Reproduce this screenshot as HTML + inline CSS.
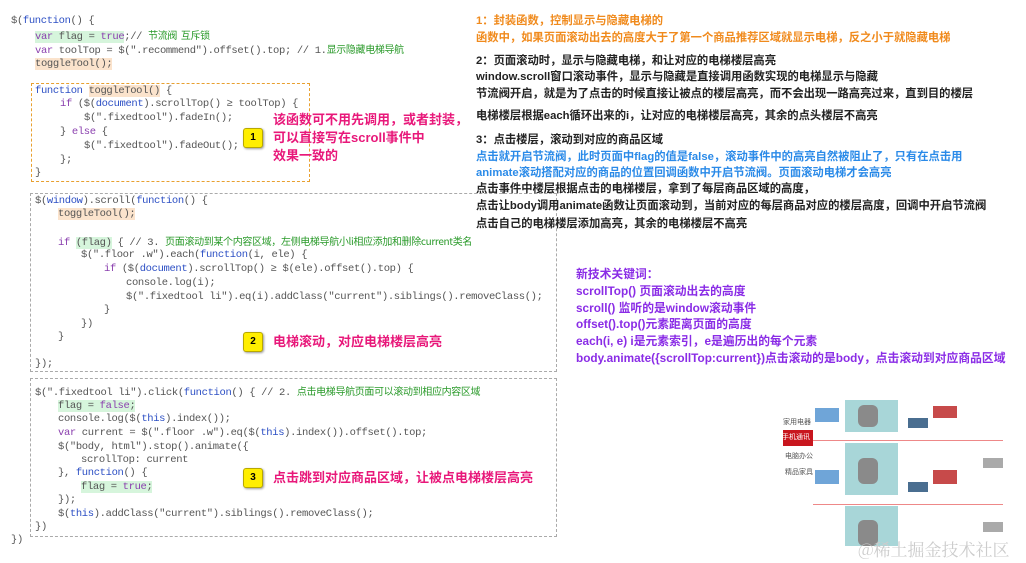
<!DOCTYPE html>
<html><head><meta charset="utf-8"><style>
body{margin:0;width:1026px;height:563px;background:#fff;position:relative;overflow:hidden;font-family:"Liberation Sans","Noto Sans CJK SC",sans-serif}
.c{position:absolute;font-family:"Liberation Mono","Noto Sans CJK SC",monospace;font-size:10.5px;letter-spacing:-0.35px;color:#555;white-space:pre;line-height:13px;height:13px}
.k{color:#8a3fae}.f{color:#2c4fc4}.g{color:#2a9a2a;font-family:"Noto Sans CJK SC",sans-serif;font-size:10px;line-height:10px}
.hg{background:#d6f5dc}.ho{background:#fbe3cc}
.t{position:absolute;white-space:pre;font-size:11.3px;font-weight:bold;color:#222;line-height:14px}
.o{color:#f08a1c}.b{color:#2a8ae8}.p{color:#8a2ce6}
.r{position:absolute;white-space:pre;color:#e8187a;font-weight:bold;font-size:13px;line-height:18px}
.bd{position:absolute;width:18px;height:18px;background:#ffee00;border:1px solid #b8a800;border-radius:3px;font-size:10px;font-weight:bold;text-align:center;line-height:18px;box-shadow:1px 1px 2px #999}
.box{position:absolute;border:1px dashed #aaa}
</style></head><body>
<div class="c" style="left:11px;top:15px">$(<span class="f">function</span>() {</div>
<div class="c" style="left:35px;top:30px"><span class="hg"><span class="k">var</span> flag = <span class="k">true</span></span>;// <span class="g">节流阀  互斥锁</span></div>
<div class="c" style="left:35px;top:44px"><span class="k">var</span> toolTop = $(".recommend").offset().top; // 1.<span class="g">显示隐藏电梯导航</span></div>
<div class="c" style="left:35px;top:58px"><span class="ho">toggleTool();</span></div>
<div class="box" style="left:31px;top:83px;width:277px;height:97px;border-color:#e8a030"></div>
<div class="c" style="left:35px;top:85px"><span class="f">function</span> <span class="ho">toggleTool()</span> {</div>
<div class="c" style="left:60px;top:98px"><span class="k">if</span> ($(<span class="f">document</span>).scrollTop() ≥ toolTop) {</div>
<div class="c" style="left:84px;top:112px">$(".fixedtool").fadeIn();</div>
<div class="c" style="left:60px;top:126px">} <span class="k">else</span> {</div>
<div class="c" style="left:84px;top:140px">$(".fixedtool").fadeOut();</div>
<div class="c" style="left:60px;top:154px">};</div>
<div class="c" style="left:35px;top:167px">}</div>
<div class="bd" style="left:243px;top:128px">1</div>
<div class="r" style="left:273px;top:111px">该函数可不用先调用，或者封装，
可以直接写在scroll事件中
效果一致的</div>

<div class="box" style="left:30px;top:193px;width:525px;height:177px"></div>
<div class="c" style="left:35px;top:195px">$(<span class="f">window</span>).scroll(<span class="f">function</span>() {</div>
<div class="c" style="left:58px;top:208px"><span class="ho">toggleTool();</span></div>
<div class="c" style="left:58px;top:236px"><span class="k">if</span> <span class="hg">(flag)</span> { // 3. <span class="g">页面滚动到某个内容区域，左侧电梯导航小li相应添加和删除current类名</span></div>
<div class="c" style="left:81px;top:249px">$(".floor .w").each(<span class="f">function</span>(i, ele) {</div>
<div class="c" style="left:104px;top:263px"><span class="k">if</span> ($(<span class="f">document</span>).scrollTop() ≥ $(ele).offset().top) {</div>
<div class="c" style="left:126px;top:277px">console.log(i);</div>
<div class="c" style="left:126px;top:291px">$(".fixedtool li").eq(i).addClass("current").siblings().removeClass();</div>
<div class="c" style="left:104px;top:304px">}</div>
<div class="c" style="left:81px;top:318px">})</div>
<div class="c" style="left:58px;top:331px">}</div>
<div class="c" style="left:35px;top:358px">});</div>
<div class="bd" style="left:243px;top:332px">2</div>
<div class="r" style="left:273px;top:333px">电梯滚动，对应电梯楼层高亮</div>

<div class="box" style="left:30px;top:378px;width:525px;height:157px"></div>
<div class="c" style="left:35px;top:386px">$(".fixedtool li").click(<span class="f">function</span>() { // 2. <span class="g">点击电梯导航页面可以滚动到相应内容区域</span></div>
<div class="c" style="left:58px;top:400px"><span class="hg">flag = <span class="k">false</span>;</span></div>
<div class="c" style="left:58px;top:413px">console.log($(<span class="f">this</span>).index());</div>
<div class="c" style="left:58px;top:427px"><span class="k">var</span> current = $(".floor .w").eq($(<span class="f">this</span>).index()).offset().top;</div>
<div class="c" style="left:58px;top:441px">$("body, html").stop().animate({</div>
<div class="c" style="left:81px;top:454px">scrollTop: current</div>
<div class="c" style="left:58px;top:467px">}, <span class="f">function</span>() {</div>
<div class="c" style="left:81px;top:481px"><span class="hg">flag = <span class="k">true</span>;</span></div>
<div class="c" style="left:58px;top:494px">});</div>
<div class="c" style="left:58px;top:508px">$(<span class="f">this</span>).addClass("current").siblings().removeClass();</div>
<div class="c" style="left:35px;top:521px">})</div>
<div class="c" style="left:11px;top:534px">})</div>
<div class="bd" style="left:243px;top:468px">3</div>
<div class="r" style="left:273px;top:469px">点击跳到对应商品区域，让被点电梯楼层高亮</div>

<div class="t o" style="left:476px;top:14px">1：封装函数，控制显示与隐藏电梯的</div>
<div class="t o" style="left:476px;top:31px">函数中，如果页面滚动出去的高度大于了第一个商品推荐区域就显示电梯，反之小于就隐藏电梯</div>
<div class="t" style="left:476px;top:54px">2：页面滚动时，显示与隐藏电梯，和让对应的电梯楼层高亮</div>
<div class="t" style="left:476px;top:70px">window.scroll窗口滚动事件，显示与隐藏是直接调用函数实现的电梯显示与隐藏</div>
<div class="t" style="left:476px;top:87px">节流阀开启，就是为了点击的时候直接让被点的楼层高亮，而不会出现一路高亮过来，直到目的楼层</div>
<div class="t" style="left:476px;top:109px">电梯楼层根据each循环出来的i，让对应的电梯楼层高亮，其余的点头楼层不高亮</div>
<div class="t" style="left:476px;top:133px">3：点击楼层，滚动到对应的商品区域</div>
<div class="t b" style="left:476px;top:150px">点击就开启节流阀，此时页面中flag的值是false，滚动事件中的高亮自然被阻止了，只有在点击用</div>
<div class="t b" style="left:476px;top:166px">animate滚动搭配对应的商品的位置回调函数中开启节流阀。页面滚动电梯才会高亮</div>
<div class="t" style="left:476px;top:182px">点击事件中楼层根据点击的电梯楼层，拿到了每层商品区域的高度，</div>
<div class="t" style="left:476px;top:199px">点击让body调用animate函数让页面滚动到，当前对应的每层商品对应的楼层高度，回调中开启节流阀</div>
<div class="t" style="left:476px;top:217px">点击自己的电梯楼层添加高亮，其余的电梯楼层不高亮</div>

<div class="t p" style="left:576px;top:266px;line-height:16.8px;font-size:11.8px">新技术关键词：
scrollTop() 页面滚动出去的高度
scroll() 监听的是window滚动事件
offset().top()元素距离页面的高度
each(i, e) i是元素索引，e是遍历出的每个元素
body.animate({scrollTop:current})点击滚动的是body，点击滚动到对应商品区域</div>

<div style="position:absolute;left:783px;top:400px;width:220px;height:146px;overflow:hidden">
<div style="position:absolute;left:0;top:17px;font-size:7px;color:#555">家用电器</div>
<div style="position:absolute;left:-4px;top:30px;width:34px;height:16px;background:#c8161e;color:#fff;font-size:7px;line-height:16px;text-align:center">手机通讯</div>
<div style="position:absolute;left:2px;top:51px;font-size:7px;color:#555">电脑办公</div>
<div style="position:absolute;left:2px;top:67px;font-size:7px;color:#555">精品家具</div>
<div style="position:absolute;left:32px;top:8px;width:24px;height:14px;background:#6fa5d8"></div>
<div style="position:absolute;left:62px;top:0;width:53px;height:32px;background:#a8d6d8"></div>
<div style="position:absolute;left:75px;top:5px;width:20px;height:22px;background:#8a8a8a;border-radius:6px"></div>
<div style="position:absolute;left:150px;top:6px;width:24px;height:12px;background:#c74a4a"></div>
<div style="position:absolute;left:125px;top:18px;width:20px;height:10px;background:#4a6e90"></div>
<div style="position:absolute;left:30px;top:40px;width:200px;height:1px;background:#e88"></div>
<div style="position:absolute;left:62px;top:43px;width:53px;height:52px;background:#a8d6d8"></div>
<div style="position:absolute;left:75px;top:58px;width:20px;height:26px;background:#8a8a8a;border-radius:6px"></div>
<div style="position:absolute;left:32px;top:70px;width:24px;height:14px;background:#6fa5d8"></div>
<div style="position:absolute;left:150px;top:70px;width:24px;height:14px;background:#c74a4a"></div>
<div style="position:absolute;left:125px;top:82px;width:20px;height:10px;background:#4a6e90"></div>
<div style="position:absolute;left:200px;top:58px;width:20px;height:10px;background:#aaa"></div>
<div style="position:absolute;left:30px;top:104px;width:200px;height:1px;background:#e88"></div>
<div style="position:absolute;left:62px;top:106px;width:53px;height:40px;background:#a8d6d8"></div>
<div style="position:absolute;left:75px;top:120px;width:20px;height:26px;background:#8a8a8a;border-radius:6px"></div>
<div style="position:absolute;left:200px;top:122px;width:20px;height:10px;background:#aaa"></div>
</div>
<div style="position:absolute;left:858px;top:536px;font-size:17px;color:#ccc;font-family:'Noto Serif CJK SC',serif">@稀土掘金技术社区</div>
</body></html>
